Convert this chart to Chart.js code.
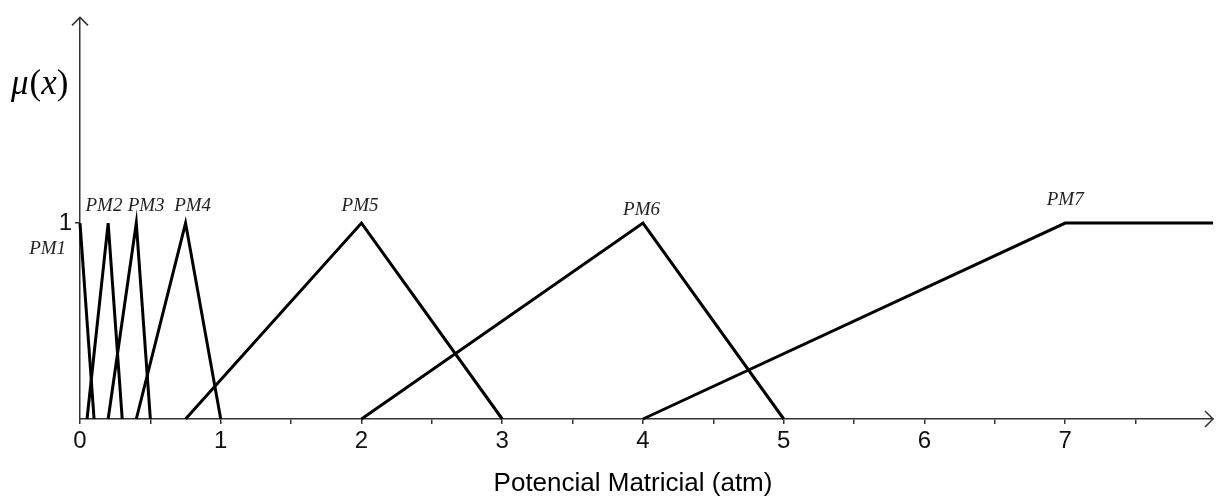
<!DOCTYPE html>
<html>
<head>
<meta charset="utf-8">
<script src="https://cdn.jsdelivr.net/npm/chart.js"></script>
<style>
  html, body { margin: 0; padding: 0; background: #fff; }
  #wrap { width: 1221px; height: 500px; }
</style>
</head>
<body>
<div id="wrap"><canvas id="grafico" width="1221" height="500"></canvas></div>
<script>
// funciones de pertenencia (puntos de quiebre)
const conjuntos = ["PM1", "PM2", "PM3", "PM4", "PM5", "PM6", "PM7"];
const pm1X = [0, 0.1];          const pm1Y = [1, 0];
const pm2X = [0.05, 0.2, 0.3];  const pm2Y = [0, 1, 0];
const pm3X = [0.2, 0.4, 0.5];   const pm3Y = [0, 1, 0];
const pm4X = [0.4, 0.75, 1];    const pm4Y = [0, 1, 0];
const pm5X = [0.75, 2, 3];      const pm5Y = [0, 1, 0];
const pm6X = [2, 4, 5];         const pm6Y = [0, 1, 0];
const pm7X = [4, 7, 8.05];      const pm7Y = [0, 1, 1];

const xTicks = [0, 0.5, 1, 1.5, 2, 2.5, 3, 3.5, 4, 4.5, 5, 5.5, 6, 6.5, 7, 7.5];
const xLabels = ["0", "1", "2", "3", "4", "5", "6", "7"];
const yTicks = [1];

const xs = [pm1X, pm2X, pm3X, pm4X, pm5X, pm6X, pm7X];
const ys = [pm1Y, pm2Y, pm3Y, pm4Y, pm5Y, pm6Y, pm7Y];

// donde van las etiquetas PMn (en unidades del gráfico)
const etiquetaPos = [
  [-0.23, 0.87], [0.17, 1.085], [0.47, 1.085], [0.8, 1.085],
  [1.99, 1.085], [3.99, 1.065], [7.0, 1.12]
];

const datasets = conjuntos.map((n, i) => ({
  label: n,
  data: xs[i].map((x, j) => ({ x: x, y: ys[i][j] })),
  showLine: true,
  borderColor: "#000",
  borderWidth: 3,
  pointRadius: 0,
  tension: 0,
  clip: false
}));

const ejeColor = "#333";

const decoraciones = {
  id: "decoraciones",
  afterDraw(chart) {
    const ctx = chart.ctx;
    const a = chart.chartArea;
    const sx = chart.scales.x, sy = chart.scales.y;
    ctx.save();
    // flechas
    ctx.strokeStyle = ejeColor;
    ctx.lineWidth = 1.5;
    ctx.beginPath();
    ctx.moveTo(a.right - 8, a.bottom - 8);
    ctx.lineTo(a.right, a.bottom);
    ctx.lineTo(a.right - 8, a.bottom + 8);
    ctx.moveTo(a.left - 8, a.top + 8);
    ctx.lineTo(a.left, a.top);
    ctx.lineTo(a.left + 8, a.top + 8);
    ctx.stroke();

    // etiquetas PM
    ctx.fillStyle = "#222";
    ctx.font = "italic 19px 'Liberation Serif', serif";
    ctx.textAlign = "center";
    ctx.textBaseline = "middle";
    conjuntos.forEach((n, i) => {
      const p = etiquetaPos[i];
      ctx.fillText(n, sx.getPixelForValue(p[0]), sy.getPixelForValue(p[1]));
    });

    // mu(x)
    ctx.fillStyle = "#000";
    ctx.textAlign = "left";
    ctx.textBaseline = "alphabetic";
    let cx = 11;
    const base = 94;
    const partes = [["μ", "italic"], ["(", "normal"], ["x", "italic"], [")", "normal"]];
    partes.forEach(pt => {
      ctx.font = pt[1] + " 35px 'Liberation Serif', serif";
      ctx.fillText(pt[0], cx, base);
      cx += ctx.measureText(pt[0]).width + (pt[0] === "μ" ? 1 : 0);
    });

    // titulo eje x
    ctx.font = "26px 'Liberation Sans', Arial, sans-serif";
    ctx.textAlign = "center";
    ctx.textBaseline = "middle";
    ctx.fillText("Potencial Matricial (atm)", 633, 484);
    ctx.restore();
  }
};

new Chart(document.getElementById("grafico").getContext("2d"), {
  type: "scatter",
  data: { datasets: datasets },
  options: {
    responsive: false,
    animation: false,
    layout: { padding: { top: 15, right: 8, left: 0, bottom: 0 } },
    plugins: { legend: { display: false }, tooltip: { enabled: false } },
    scales: {
      x: {
        type: "linear",
        min: 0,
        max: 8.05,
        afterBuildTicks: (s) => { s.ticks = xTicks.map(v => ({ value: v })); },
        afterFit: (s) => { s.height = 81; },
        border: { color: ejeColor, width: 1.5 },
        grid: { drawOnChartArea: false, color: ejeColor, tickLength: 5, lineWidth: 1.5 },
        ticks: {
          autoSkip: false,
          maxRotation: 0,
          padding: 3,
          color: "#111",
          font: { family: "'Liberation Sans', sans-serif", size: 24 },
          callback: (v) => Number.isInteger(v) ? xLabels[v] : ""
        }
      },
      y: {
        type: "linear",
        min: 0,
        max: 2.05,
        afterBuildTicks: (s) => { s.ticks = yTicks.map(v => ({ value: v })); },
        afterFit: (s) => { s.width = 80; },
        border: { color: ejeColor, width: 1.5 },
        grid: { drawOnChartArea: false, color: ejeColor, tickLength: 5, lineWidth: 1.5 },
        ticks: {
          padding: 3,
          color: "#111",
          font: { family: "'Liberation Sans', sans-serif", size: 24 },
          callback: (v) => String(v)
        }
      }
    }
  },
  plugins: [decoraciones]
});
</script>
</body>
</html>
